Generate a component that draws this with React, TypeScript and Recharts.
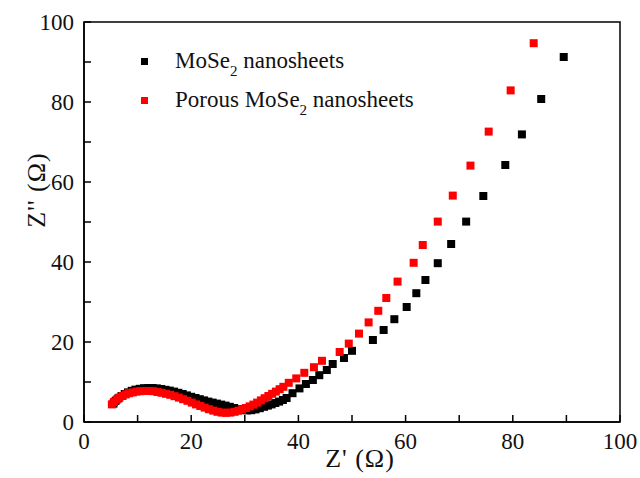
import { ScatterChart, Scatter, XAxis, YAxis, ReferenceArea, Legend } from 'recharts'

// Nyquist plot: Z' vs Z'' (ohm)
const mose2Re = [
  5.5, 5.9, 6.4, 7.0, 7.6, 8.2, 8.9, 9.6, 10.4, 11.2, 12.0, 12.8, 13.6, 14.4, 15.2, 16.0,
  16.8, 17.6, 18.4, 19.2, 20.0, 20.8, 21.6, 22.4, 23.2, 24.0, 24.8, 25.6, 26.4, 27.2, 28.0,
  28.8, 29.6, 30.4, 31.2, 32.0, 32.8, 33.6, 34.3, 35.0, 35.7, 36.4, 37.1, 37.8, 38.9, 40.2,
  41.4, 42.7, 43.9, 45.3, 46.4, 48.5, 50.0, 53.9, 55.9, 57.9, 60.2, 62.0, 63.7, 66.0, 68.5,
  71.3, 74.5, 78.6, 81.7, 85.3, 89.5,
]
const mose2Im = [
  4.6, 5.3, 5.9, 6.5, 7.0, 7.4, 7.8, 8.1, 8.3, 8.45, 8.5, 8.5, 8.4, 8.25, 8.05, 7.85,
  7.6, 7.3, 7.0, 6.65, 6.3, 6.0, 5.7, 5.4, 5.1, 4.85, 4.6, 4.35, 4.1, 3.8, 3.5,
  3.2, 3.0, 2.9, 2.95, 3.15, 3.45, 3.8, 4.1, 4.4, 4.75, 5.1, 5.5, 6.0, 7.2, 8.4,
  9.5, 10.5, 11.7, 13.0, 14.5, 16.0, 17.8, 20.5, 23.0, 25.7, 28.75, 32.2, 35.5, 39.7, 44.5,
  50.1, 56.5, 64.25, 71.9, 80.75, 91.25,
]

const porousRe = [
  5.2, 5.6, 6.1, 6.6, 7.2, 7.8, 8.4, 9.1, 9.8, 10.5, 11.3, 12.1, 12.9, 13.7, 14.5, 15.3,
  16.1, 16.9, 17.7, 18.5, 19.3, 20.1, 20.9, 21.7, 22.5, 23.3, 24.1, 24.9, 25.7, 26.5, 27.3,
  28.1, 28.8, 29.5, 30.2, 30.9, 31.6, 32.3, 33.0, 33.7, 34.4, 35.1, 35.8, 36.5, 37.2, 38.2,
  39.6, 41.1, 42.9, 44.4, 47.7, 49.4, 51.3, 53.1, 54.9, 56.4, 58.5, 61.5, 63.2, 66.0, 68.8,
  72.1, 75.5, 79.6, 83.9,
]
const porousIm = [
  4.4, 5.0, 5.6, 6.1, 6.5, 6.9, 7.2, 7.4, 7.6, 7.7, 7.75, 7.75, 7.7, 7.5, 7.3, 7.05,
  6.8, 6.45, 6.1, 5.7, 5.3, 4.85, 4.4, 4.0, 3.6, 3.2, 2.85, 2.55, 2.35, 2.3, 2.35,
  2.55, 2.8, 3.1, 3.5, 3.9, 4.35, 4.85, 5.4, 5.95, 6.5, 7.05, 7.6, 8.2, 8.8, 9.8,
  10.9, 12.3, 13.7, 15.3, 17.5, 19.6, 22.1, 24.9, 27.8, 31.0, 35.1, 39.8, 44.25, 50.1, 56.6,
  64.1, 72.6, 82.9, 94.7,
]

const axisTicks = [0, 10, 20, 30, 40, 50, 60, 70, 80, 90, 100]

const seriesNames = ['MoSe2 nanosheets', 'Porous MoSe2 nanosheets']
const seriesColors = ['#000000', '#ff0000']
const legendPrefix = ['', 'Porous ']

const FONT = "'Liberation Serif', 'Times New Roman', serif"

const mose2Data = mose2Re.map((x, i) => ({ x, y: mose2Im[i] }))
const porousData = porousRe.map((x, i) => ({ x, y: porousIm[i] }))

const square = (color: string) => (props: any) => {
  const { cx, cy } = props
  return <rect x={cx - 4} y={cy - 4} width={8} height={8} fill={color} />
}

function XTick({ x, y, payload }: any) {
  const v = payload.value
  return (
    <g>
      <line x1={x} x2={x} y1={y} y2={y - 7} stroke="#000" strokeWidth={1.5} />
      {v % 20 === 0 && (
        <text x={x} y={y + 27} textAnchor="middle" fontFamily={FONT} fontSize={23} fill="#111">
          {v}
        </text>
      )}
    </g>
  )
}

function YTick({ x, y, payload }: any) {
  const v = payload.value
  return (
    <g>
      <line x1={x} x2={x + 7} y1={y} y2={y} stroke="#000" strokeWidth={1.5} />
      {v % 20 === 0 && (
        <text x={x - 10} y={y + 7.5} textAnchor="end" fontFamily={FONT} fontSize={23} fill="#111">
          {v}
        </text>
      )}
    </g>
  )
}

function LegendBox() {
  return (
    <div style={{ fontFamily: FONT, fontSize: 23, color: '#111' }}>
      {seriesNames.map((name, i) => (
        <div key={name} style={{ height: 39, display: 'flex', alignItems: 'center', lineHeight: '23px' }}>
          <span style={{ width: 7, height: 7, background: seriesColors[i], display: 'inline-block', marginRight: 27 }} />
          <span style={{ whiteSpace: 'nowrap' }}>
            {legendPrefix[i]}MoSe
            <span style={{ fontSize: 15, position: 'relative', top: 8 }}>2</span> nanosheets
          </span>
        </div>
      ))}
    </div>
  )
}

export default function App() {
  return (
    <div>
      <style>{'body{margin:0}'}</style>
      <ScatterChart width={640} height={478} margin={{ top: 22, right: 20, bottom: 0, left: 0 }}>
        <XAxis
          type="number"
          dataKey="x"
          domain={[0, 100]}
          ticks={axisTicks}
          interval={0}
          height={56}
          tickSize={0}
          tickMargin={0}
          tickLine={false}
          tick={<XTick />}
          axisLine={{ stroke: '#000', strokeWidth: 1.5 }}
          label={{
            content: ({ viewBox }: any) => (
              <text
                x={viewBox.x + viewBox.width / 2 + 8}
                y={467}
                textAnchor="middle"
                fontFamily={FONT}
                fontSize={26}
                letterSpacing={1}
                fill="#111"
              >
                Z' (Ω)
              </text>
            ),
          }}
        />
        <YAxis
          type="number"
          dataKey="y"
          domain={[0, 100]}
          ticks={axisTicks}
          interval={0}
          width={84}
          tickSize={0}
          tickMargin={0}
          tickLine={false}
          tick={<YTick />}
          axisLine={{ stroke: '#000', strokeWidth: 1.5 }}
          label={{
            content: () => (
              <text
                x={36}
                y={190}
                transform="rotate(-90, 36, 190)"
                textAnchor="middle"
                dominantBaseline="central"
                fontFamily={FONT}
                fontSize={26}
                letterSpacing={1}
                fill="#111"
              >
                Z'' (Ω)
              </text>
            ),
          }}
        />
        <ReferenceArea x1={0} x2={100} y1={0} y2={100} fill="none" fillOpacity={0} stroke="#000" strokeWidth={1.5} strokeOpacity={1} />
        <Legend
          layout="vertical"
          align="center"
          verticalAlign="middle"
          content={<LegendBox />}
          wrapperStyle={{ top: 42, left: 141, width: 'auto', height: 'auto' }}
        />
        <Scatter name={seriesNames[0]} data={mose2Data} fill={seriesColors[0]} shape={square(seriesColors[0])} isAnimationActive={false} />
        <Scatter name={seriesNames[1]} data={porousData} fill={seriesColors[1]} shape={square(seriesColors[1])} isAnimationActive={false} />
      </ScatterChart>
    </div>
  )
}
